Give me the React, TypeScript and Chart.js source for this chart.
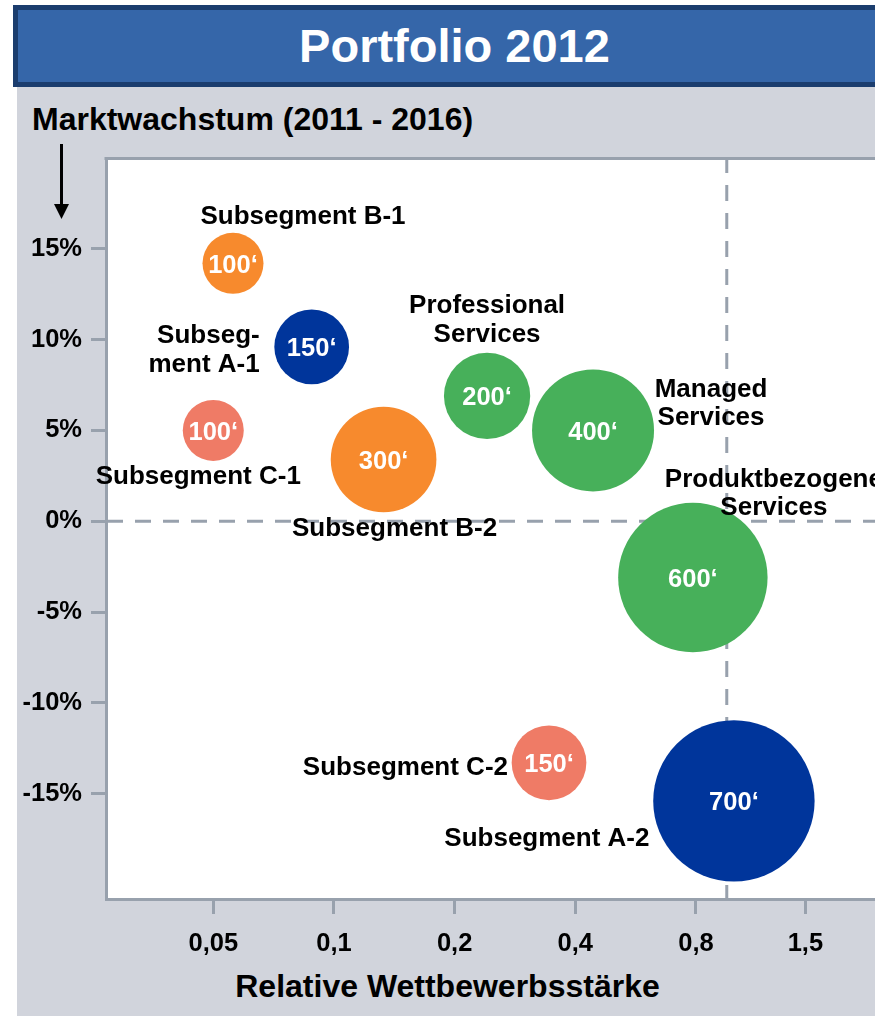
import React, { useEffect, useRef } from "react";
import { Chart, registerables } from "chart.js";

Chart.register(...registerables);

// ---------- data ----------
const segmentNames = [
  "Subsegment B-1",
  "Subsegment A-1",
  "Subsegment C-1",
  "Subsegment B-2",
  "Professional Services",
  "Managed Services",
  "Produktbezogene Services",
  "Subsegment C-2",
  "Subsegment A-2",
];
const segmentLabelLines = [
  ["Subsegment B-1"],
  ["Subseg-", "ment A-1"],
  ["Subsegment C-1"],
  ["Subsegment B-2"],
  ["Professional", "Services"],
  ["Managed", "Services"],
  ["Produktbezogene", "Services"],
  ["Subsegment C-2"],
  ["Subsegment A-2"],
];
const segmentGroup = ["B", "A", "C", "B", "S", "S", "S", "C", "A"];
const relativeStrength = [0.056, 0.088, 0.05, 0.133, 0.241, 0.443, 0.786, 0.344, 0.995];
const marketGrowth = [14.2, 9.6, 5.0, 3.4, 6.9, 5.0, -3.1, -13.3, -15.4];
const volume = [100, 150, 100, 300, 200, 400, 600, 150, 700];
const xTickValues = [0.05, 0.1, 0.2, 0.4, 0.8, 1.5];
const yTickValues = [15, 10, 5, 0, -5, -10, -15];
const quadrantSplitX = 0.955;
const quadrantSplitY = 0;

// ---------- styling ----------
const FONT = '"Liberation Sans", Arial, Helvetica, sans-serif';
const AXIS_GRAY = "#98a1ad";
const groupColor: Record<string, string> = {
  A: "#00359b",
  B: "#f78a2d",
  C: "#ef7b66",
  S: "#47b05a",
};
// label placement relative to bubble centre (pixels)
const labelPlacement = [
  { dx: 70, dy: -49, align: "center" },
  { dx: -52, dy: -13, align: "right" },
  { dx: -15, dy: 44, align: "center" },
  { dx: 11, dy: 67, align: "center" },
  { dx: 0, dy: -92, align: "center" },
  { dx: 118, dy: -43, align: "center" },
  { dx: 81, dy: -100, align: "center" },
  { dx: -41, dy: 3, align: "right" },
  { dx: -187, dy: 36, align: "center" },
];
const radiusFor = (v: number) => 3.05 * Math.sqrt(v);

const decorPlugin = {
  id: "decor",
  beforeDraw(chart: any) {
    const { ctx, chartArea } = chart;
    ctx.save();
    ctx.fillStyle = "#ffffff";
    ctx.fillRect(chartArea.left, chartArea.top, chartArea.right - chartArea.left + 40, chartArea.bottom - chartArea.top);
    // top frame line
    ctx.strokeStyle = AXIS_GRAY;
    ctx.lineWidth = 3;
    ctx.beginPath();
    ctx.moveTo(chartArea.left - 1.5, chartArea.top + 0.5);
    ctx.lineTo(chartArea.right + 40, chartArea.top + 0.5);
    ctx.stroke();
    // arrow
    ctx.strokeStyle = "#000";
    ctx.fillStyle = "#000";
    ctx.lineWidth = 3;
    ctx.beginPath();
    ctx.moveTo(61.5, 144);
    ctx.lineTo(61.5, 206);
    ctx.stroke();
    ctx.beginPath();
    ctx.moveTo(54, 204);
    ctx.lineTo(69, 204);
    ctx.lineTo(61.5, 219);
    ctx.closePath();
    ctx.fill();
    ctx.restore();
  },
  beforeDatasetsDraw(chart: any) {
    const { ctx, chartArea, scales } = chart;
    const xp = scales.x.getPixelForValue(quadrantSplitX);
    const yp = scales.y.getPixelForValue(quadrantSplitY);
    ctx.save();
    ctx.strokeStyle = AXIS_GRAY;
    ctx.lineWidth = 3;
    ctx.setLineDash([16, 12]);
    ctx.beginPath();
    ctx.moveTo(chartArea.left + 1, yp);
    ctx.lineTo(chartArea.right + 40, yp);
    ctx.stroke();
    ctx.lineDashOffset = 3;
    ctx.beginPath();
    ctx.moveTo(xp, chartArea.top + 2);
    ctx.lineTo(xp, chartArea.bottom);
    ctx.stroke();
    ctx.restore();
  },
  afterDatasetsDraw(chart: any) {
    const { ctx, scales } = chart;
    ctx.save();
    ctx.textBaseline = "middle";
    for (let i = 0; i < segmentNames.length; i++) {
      const px = scales.x.getPixelForValue(relativeStrength[i]);
      const py = scales.y.getPixelForValue(marketGrowth[i]);
      ctx.fillStyle = "#ffffff";
      ctx.textAlign = "center";
      ctx.font = `bold 25.5px ${FONT}`;
      ctx.fillText(`${volume[i]}\u2018`, px, py + 2.5);
      const pl = labelPlacement[i];
      ctx.fillStyle = "#000000";
      ctx.textAlign = pl.align as CanvasTextAlign;
      ctx.font = `bold 26px ${FONT}`;
      segmentLabelLines[i].forEach((line, k) => {
        ctx.fillText(line, px + pl.dx, py + pl.dy + 2 + k * 28.5);
      });
    }
    ctx.restore();
  },
};

export default function App() {
  const canvasRef = useRef<HTMLCanvasElement | null>(null);

  useEffect(() => {
    if (!canvasRef.current) return;
    const chart = new Chart(canvasRef.current, {
      type: "bubble",
      data: {
        datasets: [
          {
            label: "Portfolio",
            data: segmentNames.map((_, i) => ({
              x: relativeStrength[i],
              y: marketGrowth[i],
              r: radiusFor(volume[i]),
            })),
            backgroundColor: segmentGroup.map((g) => groupColor[g]),
            borderWidth: 0,
            hoverBorderWidth: 0,
          },
        ],
      },
      options: {
        responsive: false,
        animation: false,
        events: [],
        layout: { autoPadding: false, padding: { left: 0, top: 158, right: 25, bottom: 0 } },
        plugins: {
          legend: { display: false },
          title: { display: false },
          tooltip: { enabled: false },
        },
        scales: {
          x: {
            type: "logarithmic",
            min: 0.027,
            max: 2.37,
            afterBuildTicks: (s: any) => {
              s.ticks = xTickValues.map((v) => ({ value: v }));
            },
            afterFit: (s: any) => {
              s.height = 117;
              s.paddingLeft = 0;
              s.paddingRight = 0;
            },
            ticks: {
              autoSkip: false,
              maxRotation: 0,
              minRotation: 0,
              padding: 15,
              color: "#000",
              font: { family: FONT, size: 25.5, weight: "bold" },
              callback: (v: any) => String(v).replace(".", ","),
            },
            grid: {
              drawOnChartArea: false,
              drawTicks: true,
              tickLength: 15,
              color: AXIS_GRAY,
              lineWidth: 3,
            },
            border: { display: true, color: AXIS_GRAY, width: 3 },
          },
          y: {
            type: "linear",
            min: -20.8,
            max: 20,
            afterBuildTicks: (s: any) => {
              s.ticks = yTickValues.map((v) => ({ value: v }));
            },
            afterFit: (s: any) => {
              s.width = 106;
              s.paddingTop = 0;
              s.paddingBottom = 0;
            },
            ticks: {
              padding: 9,
              color: "#000",
              font: { family: FONT, size: 25.5, weight: "bold" },
              callback: (v: any) => `${v}%`,
            },
            grid: {
              drawOnChartArea: false,
              drawTicks: true,
              tickLength: 15,
              color: AXIS_GRAY,
              lineWidth: 3,
            },
            border: { display: true, color: AXIS_GRAY, width: 3 },
          },
        },
      },
      plugins: [decorPlugin],
    } as any);
    return () => chart.destroy();
  }, []);

  return (
    <div
      style={{
        position: "fixed",
        left: 0,
        top: 0,
        width: 875,
        height: 1016,
        overflow: "hidden",
        background: "#ffffff",
        fontFamily: FONT,
      }}
    >
      <div
        style={{
          position: "absolute",
          left: 13,
          top: 5,
          width: 883,
          height: 82,
          boxSizing: "border-box",
          background: "#3566a9",
          border: "5px solid #1b3d6e",
          color: "#ffffff",
          fontWeight: "bold",
          fontSize: 47,
          lineHeight: "72px",
          textAlign: "center",
        }}
      >
        Portfolio 2012
      </div>
      <div
        style={{
          position: "absolute",
          left: 17,
          top: 87,
          width: 900,
          height: 929,
          background: "#d1d4dc",
        }}
      />
      <div
        style={{
          position: "absolute",
          left: 32,
          top: 104,
          fontSize: 32,
          lineHeight: "30px",
          fontWeight: "bold",
          color: "#000",
          whiteSpace: "nowrap",
        }}
      >
        Marktwachstum (2011 - 2016)
      </div>
      <div
        style={{
          position: "absolute",
          left: 0,
          width: 895,
          top: 971,
          fontSize: 32,
          lineHeight: "30px",
          fontWeight: "bold",
          color: "#000",
          textAlign: "center",
          whiteSpace: "nowrap",
        }}
      >
        Relative Wettbewerbsstärke
      </div>
      <canvas
        ref={canvasRef}
        width={910}
        height={1016}
        style={{ position: "absolute", left: 0, top: 0, width: 910, height: 1016 }}
      />
    </div>
  );
}
